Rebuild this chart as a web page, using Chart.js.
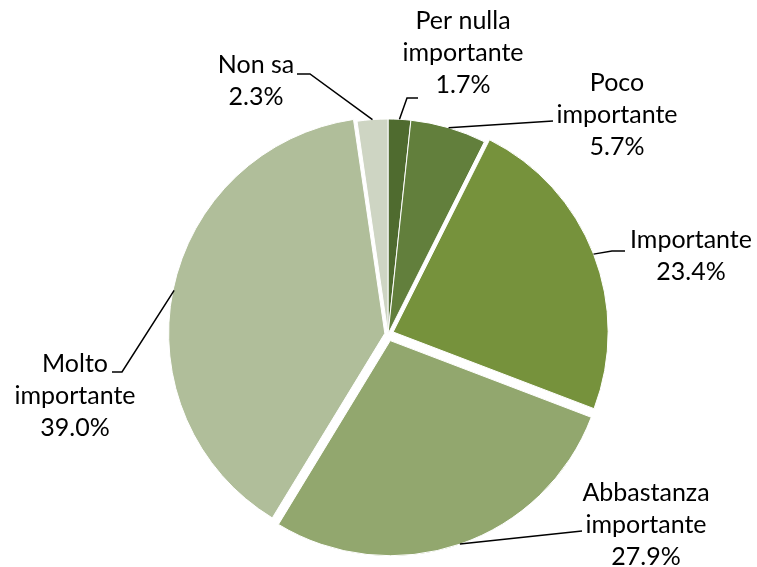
<!DOCTYPE html>
<html>
<head>
<meta charset="utf-8">
<script src="https://cdn.jsdelivr.net/npm/chart.js@4"></script>
<style>
    html, body { margin: 0; padding: 0; background: #fff; }
    #wrap { width: 757px; height: 567px; position: relative; }
</style>
</head>
<body>
<div id="wrap"><canvas id="pieChart"></canvas></div>
<script>
// Answer categories, shares (%) and slice colours
const categories = ['Per nulla importante', 'Poco importante', 'Importante', 'Abbastanza importante', 'Molto importante', 'Non sa'];
const labelLines = [['Per nulla', 'importante'], ['Poco', 'importante'], ['Importante'], ['Abbastanza', 'importante'], ['Molto', 'importante'], ['Non sa']];
const shares = [1.7, 5.7, 23.4, 27.9, 39.0, 2.3];
const sliceColors = ['#4f6b2f', '#627f3c', '#76923c', '#92a76e', '#b0be9a', '#ced5c3'];
// explosion per slice (Chart.js draws offset / 4 px)
const sliceOffsets = [0, 0, 22, 28, 13, 0];

// where each label block sits and how its leader line bends
const labelLayout = [
    { x: 463, y: 29, bends: [[407, 98], [418, 98]] },
    { x: 617, y: 91, bends: [[553, 121]] },
    { x: 691, y: 248, bends: [[612, 251], [625, 251]] },
    { x: 646, y: 501, bends: [[582, 531]] },
    { x: 75, y: 372, bends: [[122, 372], [112, 372]] },
    { x: 256, y: 73, bends: [[310, 74], [297, 74]] },
];
const lineHeight = 32;

// Data labels with leader lines, anchored on the middle of each outer arc
const leaderLabels = {
    id: 'leaderLabels',
    afterDatasetsDraw(chart) {
        const ctx = chart.ctx;
        const meta = chart.getDatasetMeta(0);
        ctx.save();
        meta.data.forEach((arc, i) => {
            const mid = (arc.startAngle + arc.endAngle) / 2;
            const off = (sliceOffsets[i] || 0) / 4;
            const r = arc.outerRadius + off;
            const sx = arc.x + Math.cos(mid) * r;
            const sy = arc.y + Math.sin(mid) * r;
            const lay = labelLayout[i];

            ctx.strokeStyle = '#000';
            ctx.lineWidth = 1.5;
            ctx.beginPath();
            ctx.moveTo(sx, sy);
            lay.bends.forEach(p => ctx.lineTo(p[0], p[1]));
            ctx.stroke();

            const lines = labelLines[i].concat([shares[i].toFixed(1) + '%']);
            ctx.fillStyle = '#000';
            ctx.font = '25px Lato, "Open Sans", sans-serif';
            ctx.textAlign = 'center';
            ctx.textBaseline = 'alphabetic';
            lines.forEach((t, k) => ctx.fillText(t, lay.x, lay.y + k * lineHeight));
        });
        ctx.restore();
    }
};

const ctx = document.getElementById('pieChart').getContext('2d');
new Chart(ctx, {
    type: 'pie',
    data: {
        labels: categories,
        datasets: [{
            data: shares,
            backgroundColor: sliceColors,
            borderColor: '#ffffff',
            borderWidth: 1,
            offset: sliceOffsets,
            hoverOffset: 0,
        }]
    },
    options: {
        responsive: true,
        maintainAspectRatio: false,
        animation: false,
        radius: 215,
        layout: { padding: { left: 19, right: 0, top: 101, bottom: 0 } },
        plugins: {
            legend: { display: false },
            tooltip: { enabled: false },
        },
    },
    plugins: [leaderLabels]
});
</script>
</body>
</html>
